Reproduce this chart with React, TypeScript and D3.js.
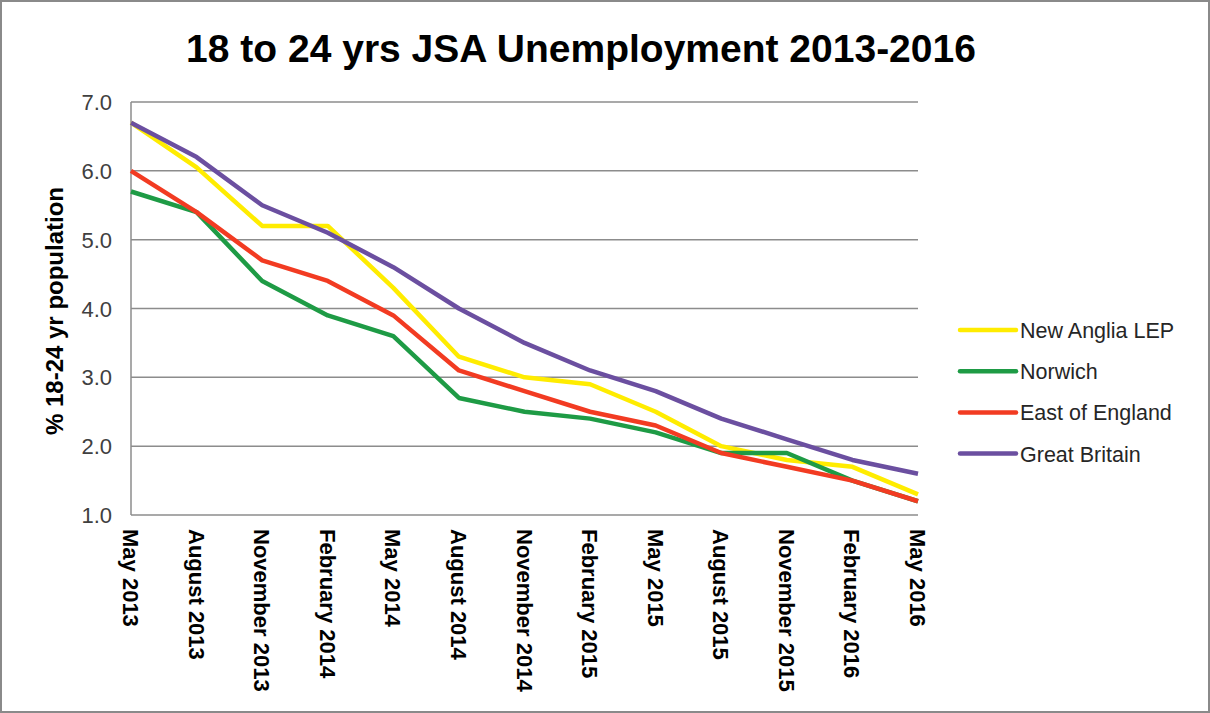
import React from "react";
import * as d3 from "d3";

const categories = [
  "May 2013", "August 2013", "November 2013", "February 2014", "May 2014",
  "August 2014", "November 2014", "February 2015", "May 2015", "August 2015",
  "November 2015", "February 2016", "May 2016",
];
const newAnglia = [6.7, 6.05, 5.2, 5.2, 4.3, 3.3, 3.0, 2.9, 2.5, 2.0, 1.8, 1.7, 1.3];
const norwich = [5.7, 5.4, 4.4, 3.9, 3.6, 2.7, 2.5, 2.4, 2.2, 1.9, 1.9, 1.5, 1.2];
const eastOfEngland = [6.0, 5.4, 4.7, 4.4, 3.9, 3.1, 2.8, 2.5, 2.3, 1.9, 1.7, 1.5, 1.2];
const greatBritain = [6.7, 6.2, 5.5, 5.1, 4.6, 4.0, 3.5, 3.1, 2.8, 2.4, 2.1, 1.8, 1.6];
const yTicks = [1, 2, 3, 4, 5, 6, 7];

const series = [
  { name: "New Anglia LEP", values: newAnglia, color: "#FFEC00" },
  { name: "Norwich", values: norwich, color: "#1E9B45" },
  { name: "East of England", values: eastOfEngland, color: "#F23B22" },
  { name: "Great Britain", values: greatBritain, color: "#6B4FA0" },
];

export default function App() {
  const W = 1210, H = 713;
  const left = 131, right = 918, top = 102, bottom = 515;
  const x = d3.scalePoint<string>().domain(categories).range([left, right]);
  const y = d3.scaleLinear().domain([1, 7]).range([bottom, top]);
  const line = d3.line<number>()
    .x((_, i) => x(categories[i]) as number)
    .y((d) => y(d));
  const font = "Liberation Sans, Arial, sans-serif";
  return (
    <svg width={W} height={H} style={{ position: "absolute", left: 0, top: 0 }} fontFamily={font}>
      <rect x={1} y={1} width={W - 2} height={H - 2} fill="#fff" stroke="#8a8a8a" strokeWidth={2} />
      <text x={581} y={62} textAnchor="middle" fontSize={39} fontWeight="bold" fill="#000">
        18 to 24 yrs JSA Unemployment 2013-2016
      </text>
      {yTicks.map((t) => (
        <g key={t}>
          <line x1={left} x2={right} y1={y(t)} y2={y(t)} stroke="#8c8c8c" strokeWidth={1.5} />
          <text x={112} y={y(t) + 8} textAnchor="end" fontSize={22} fill="#404040">
            {t.toFixed(1)}
          </text>
        </g>
      ))}
      <line x1={left} x2={left} y1={top} y2={bottom} stroke="#8c8c8c" strokeWidth={1.5} />
      <text
        transform={`translate(63,311) rotate(-90)`}
        textAnchor="middle" fontSize={24} fontWeight="bold" fill="#000"
      >
        % 18-24 yr population
      </text>
      {categories.map((c) => (
        <text
          key={c}
          transform={`translate(${(x(c) as number) - 8},529) rotate(90)`}
          fontSize={22} fontWeight="bold" fill="#000"
        >
          {c}
        </text>
      ))}
      {series.map((s) => (
        <path key={s.name} d={line(s.values) || ""} fill="none" stroke={s.color}
          strokeWidth={4.5} strokeLinejoin="round" />
      ))}
      {series.map((s, i) => (
        <g key={s.name} transform={`translate(0,${330 + i * 41.2})`}>
          <line x1={960} x2={1016} y1={0} y2={0} stroke={s.color} strokeWidth={4.5} strokeLinecap="round" />
          <text x={1020} y={8} fontSize={21.5} fill="#262626">{s.name}</text>
        </g>
      ))}
    </svg>
  );
}
